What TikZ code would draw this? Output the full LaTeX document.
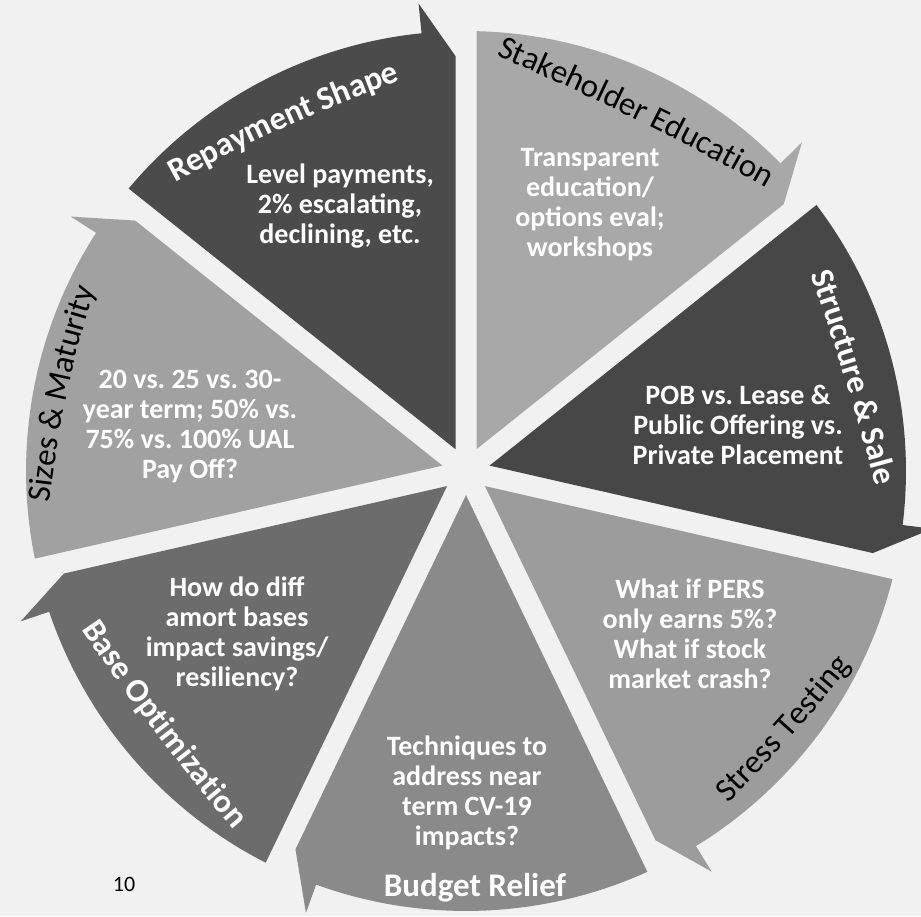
\documentclass[tikz,border=0pt]{standalone}
\usepackage{fontspec}
\setmainfont{Carlito}
\usetikzlibrary{decorations.text}
\frenchspacing
\definecolor{bg}{HTML}{F1F1F1}
\definecolor{cRep}{HTML}{4B4B4B}
\definecolor{cSta}{HTML}{A8A8A8}
\definecolor{cStr}{HTML}{474747}
\definecolor{cStress}{HTML}{9C9C9C}
\definecolor{cBud}{HTML}{8A8A8A}
\definecolor{cBase}{HTML}{6C6C6C}
\definecolor{cSiz}{HTML}{A1A1A1}
\newcommand\tfb{\fontsize{33}{33}\selectfont\bfseries}
\newcommand\tfr{\fontsize{33}{33}\selectfont}
% sector with arrow head; #1 = direction of its clockwise gap, #2 = colour
\newcommand\sectorshape[2]{%
  \fill[#2, shift={(466,445)}, rotate=#1]
    (25.714:24.2) -- (50.06:440) arc[start angle=50.06, end angle=5.8, radius=440]
    -- (5.8:470) -- (414.87,10.5) -- cycle;}
% curved title: #1,#2 mid point, #3 direction, #4 half length, #5 bend, #6 colour, #7 font, #8 text
\newcommand\arctext[8]{%
  \begin{scope}[shift={(#1,#2)}, rotate=#3]
    \pgfmathsetmacro\hl{#4}
    \pgfmathsetmacro\ss{0.5*#4*sin(#5)}
    \pgfmathsetmacro\cx{2*#4/3*cos(#5)}
    \pgfmathsetmacro\cy{2*#4/3*sin(#5)}
    \path[decorate, decoration={text along path, text align=center, raise=-9pt,
      text color=#6, text={|#7|#8}}]
      (-\hl,-\ss) .. controls ({-\hl+\cx},{-\ss+\cy}) and ({\hl-\cx},{-\ss+\cy}) .. (\hl,-\ss);
  \end{scope}}
\tikzset{
  body/.style={font=\fontsize{28}{30}\selectfont\bfseries, text=white, align=center, inner sep=0pt},
  titlenode/.style={font=\tfb, text=white, inner sep=0pt}
}
\begin{document}
\begin{tikzpicture}[x=1pt,y=1pt]
\clip (0,0) rectangle (921,916);
\fill[bg] (0,0) rectangle (921,916);
\sectorshape{90}{cRep}
\sectorshape{38.5714}{cSta}
\sectorshape{-12.8571}{cStr}
\sectorshape{-64.2857}{cStress}
\sectorshape{-115.7143}{cBud}
\sectorshape{-167.1429}{cBase}
\sectorshape{141.4286}{cSiz}

\arctext{282}{797}{24.3}{160}{6}{white}{\tfb}{Repayment Shape}
\arctext{637}{806}{-26.2}{186}{4}{black}{\tfr}{Stakeholder Education}
\arctext{854}{539}{-72.9}{146}{3}{white}{\tfb}{Structure {\&} Sale}
\arctext{785}{186}{48.1}{127}{-4}{black}{\tfr}{Stress Testing}
\arctext{162}{190}{-52.8}{161}{-4}{white}{\tfb}{Base Optimization}
\arctext{58}{523}{78}{145}{8}{black}{\tfr}{Sizes {\&} Maturity}

\node[titlenode, anchor=base] (budt) at (475,20) {Budget Relief};

\node[body] (rep) at (340,710) {Level payments,\\2\% escalating,\\declining, etc.};
\node[body] (sta) at (590,711) {Transparent\\education/\\options eval;\\workshops};
\node[body] (str) at (738,491) {POB vs. Lease \&\\Public Offering vs.\\Private Placement};
\node[body] (siz) at (190,489) {20 vs. 25 vs. 30-\\year term; 50\% vs.\\75\% vs. 100\% UAL\\Pay Off?};
\node[body] (bas) at (237,282) {How do diff\\amort bases\\impact savings/\\resiliency?};
\node[body] (bud) at (467,123) {Techniques to\\address near\\term CV-19\\impacts?};
\node[body] (stt) at (690,282) {What if PERS\\only earns 5\%?\\What if stock\\market crash?};
\node[inner sep=0pt] (pg) at (124,32) {\fontsize{22}{22}\selectfont 10};
\end{tikzpicture}
\end{document}
